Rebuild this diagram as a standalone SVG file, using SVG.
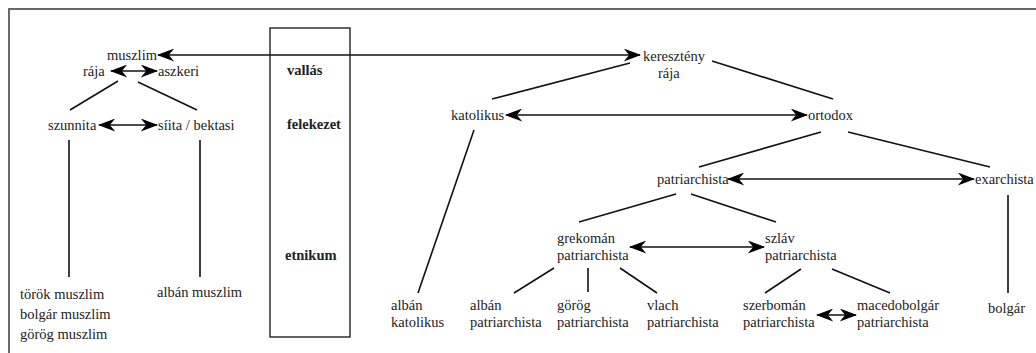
<svg xmlns="http://www.w3.org/2000/svg" width="1036" height="353" viewBox="0 0 1036 353">
<style>
.t text{font-size:14.5px;fill:#222}
.b{font-weight:bold}
.l{stroke:#111;stroke-width:1.6;fill:none}
.a{stroke:#111;stroke-width:1.6;fill:none;marker-start:url(#ah);marker-end:url(#ah)}
</style>
<defs>
<marker id="ah" viewBox="0 0 16 12" refX="15" refY="6" markerWidth="18" markerHeight="13" markerUnits="userSpaceOnUse" orient="auto-start-reverse">
<path d="M0,0 L16,6 L0,12 L5,6 Z" fill="#000"/>
</marker>
</defs>
<rect x="0" y="0" width="1036" height="353" fill="#fff"/>
<rect x="9" y="9" width="1040" height="360" fill="none" stroke="#444" stroke-width="1.6"/>
<g class="t" font-family="Liberation Serif, Tinos, Times New Roman, DejaVu Serif, serif">
<g id="box"><rect x="270" y="28" width="80" height="309" fill="none" stroke="#222" stroke-width="1.4"/>
<text class="b" x="287" y="75">vallás</text>
<text class="b" x="287" y="129">felekezet</text>
<text class="b" x="285" y="260">etnikum</text></g>
<g id="connectors">
<line class="a" x1="158" y1="55" x2="640" y2="55"/>
<line class="a" x1="111" y1="71" x2="157" y2="71"/>
<line class="l" x1="118" y1="81" x2="70" y2="110"/>
<line class="l" x1="138" y1="82" x2="197" y2="110"/>
<line class="a" x1="99" y1="125" x2="157" y2="125"/>
<line class="l" x1="69" y1="140" x2="69" y2="277"/>
<line class="l" x1="200" y1="140" x2="200" y2="277"/>
<line class="l" x1="630" y1="63" x2="492" y2="99"/>
<line class="l" x1="712" y1="61" x2="833" y2="99"/>
<line class="a" x1="506" y1="115" x2="807" y2="115"/>
<line class="l" x1="474" y1="130" x2="418" y2="293"/>
<line class="l" x1="821" y1="132" x2="699" y2="167"/>
<line class="l" x1="848" y1="132" x2="990" y2="167"/>
<line class="a" x1="728" y1="179" x2="974" y2="179"/>
<line class="l" x1="676" y1="194" x2="579" y2="222"/>
<line class="l" x1="691" y1="194" x2="776" y2="222"/>
<line class="a" x1="630" y1="247" x2="764" y2="247"/>
<line class="l" x1="554" y1="268" x2="514" y2="293"/>
<line class="l" x1="588" y1="268" x2="588" y2="292"/>
<line class="l" x1="620" y1="268" x2="657" y2="293"/>
<line class="l" x1="801" y1="269" x2="765" y2="293"/>
<line class="l" x1="832" y1="269" x2="890" y2="293"/>
<line class="a" x1="817" y1="315" x2="856" y2="315"/>
<line class="l" x1="1008" y1="195" x2="1008" y2="293"/>
</g>
<g id="muszlim"><text x="107" y="60">muszlim</text></g>
<g id="raja"><text x="83" y="76">rája</text></g>
<g id="aszkeri"><text x="158" y="76">aszkeri</text></g>
<g id="szunnita"><text x="48" y="130">szunnita</text></g>
<g id="siita"><text x="158" y="130">síita / bektasi</text></g>
<g id="etn-muszlim"><text x="20" y="299">török muszlim</text><text x="20" y="319">bolgár muszlim</text><text x="20" y="339">görög muszlim</text></g>
<g id="alban-muszlim"><text x="157" y="297">albán muszlim</text></g>
<g id="kereszteny"><text x="643" y="61">keresztény</text><text x="658" y="78">rája</text></g>
<g id="katolikus"><text x="451" y="120">katolikus</text></g>
<g id="ortodox"><text x="808" y="120">ortodox</text></g>
<g id="patriarchista"><text x="657" y="184">patriarchista</text></g>
<g id="exarchista"><text x="975" y="184">exarchista</text></g>
<g id="grekoman"><text x="557" y="243">grekomán</text><text x="557" y="260">patriarchista</text></g>
<g id="szlav"><text x="765" y="243">szláv</text><text x="765" y="260">patriarchista</text></g>
<g id="alban-katolikus"><text x="391" y="310">albán</text><text x="391" y="327">katolikus</text></g>
<g id="alban-patr"><text x="470" y="310">albán</text><text x="470" y="327">patriarchista</text></g>
<g id="gorog-patr"><text x="557" y="310">görög</text><text x="557" y="327">patriarchista</text></g>
<g id="vlach-patr"><text x="647" y="310">vlach</text><text x="647" y="327">patriarchista</text></g>
<g id="szerboman"><text x="743" y="310">szerbomán</text><text x="743" y="327">patriarchista</text></g>
<g id="macedobolgar"><text x="857" y="310">macedobolgár</text><text x="857" y="327">patriarchista</text></g>
<g id="bolgar"><text x="988" y="313">bolgár</text></g>
</g>
</svg>
